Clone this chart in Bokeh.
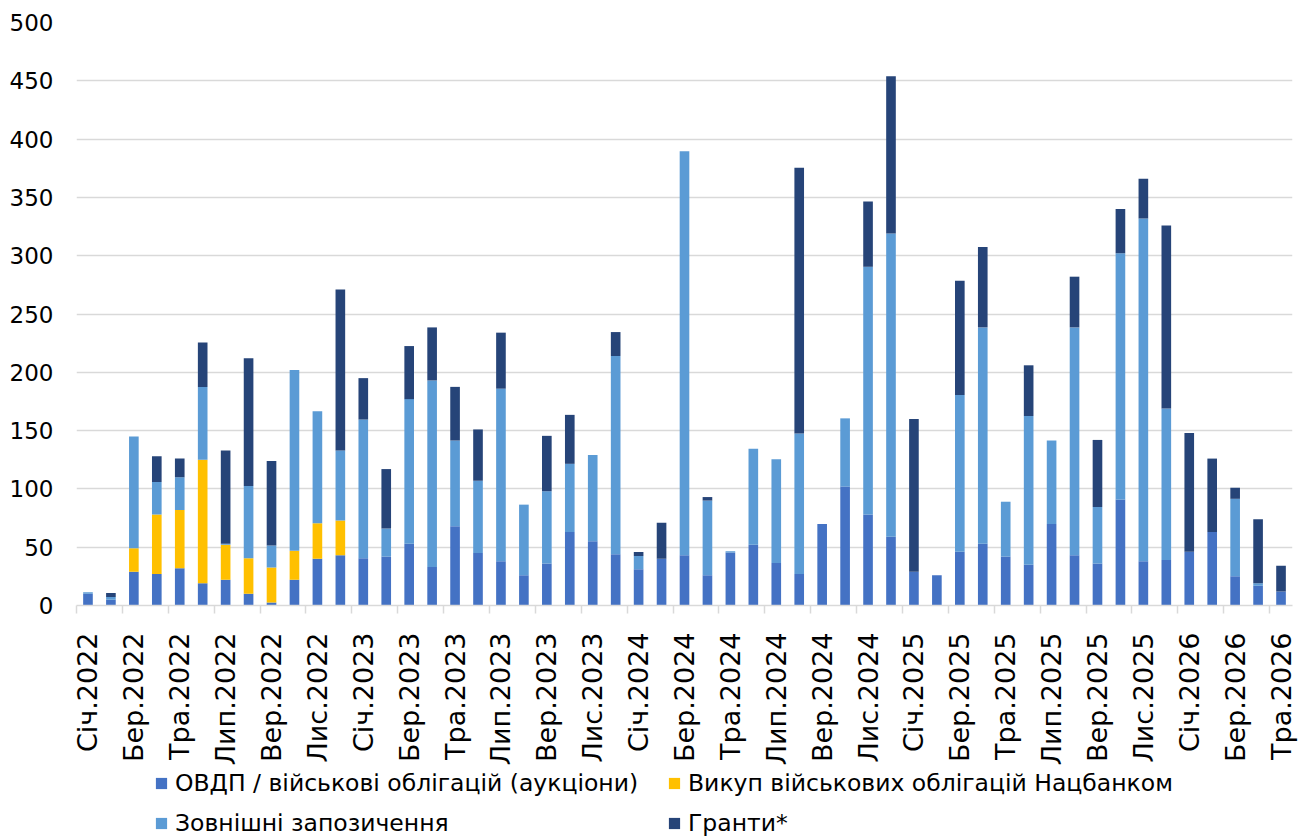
import math
from bokeh.plotting import figure
from bokeh.layouts import column
from bokeh.models import Range1d, FixedTicker, Legend, LegendItem, ColumnDataSource
from bokeh.embed import file_html
from bokeh.resources import INLINE

# ---- data ----
month_names = ["Січ", "Лют", "Бер", "Кві", "Тра", "Чер", "Лип", "Сер", "Вер", "Жов", "Лис", "Гру"]
months = [f"{month_names[m]}.{y}" for y in range(2022, 2027) for m in range(12)][:53]

ovdp = [10, 5, 29, 27, 32, 19, 22, 10, 2.5, 22, 40, 43,
        40.5, 42, 53, 33, 68, 45, 38, 26, 36, 63, 55, 44,
        31, 40, 43, 26, 45.5, 52, 36.5, 27, 70, 102, 78, 59,
        29, 26, 46, 53, 42, 35, 70, 43, 36, 91, 38, 39,
        46, 63, 25, 17, 12]
nbu = [0, 0, 20, 51, 50, 106, 30, 30.5, 30, 25, 30.5, 30,
       0, 0, 0, 0, 0, 0, 0, 0, 0, 0, 0, 0,
       0, 0, 0, 0, 0, 0, 0, 0, 0, 0, 0, 0,
       0, 0, 0, 0, 0, 0, 0, 0, 0, 0, 0, 0,
       0, 0, 0, 0, 0]
external = [1.4, 2.3, 96, 28, 28, 62.5, 1, 62, 19, 155, 96, 60,
            119, 24, 124, 160, 73.5, 62, 148, 60.5, 62, 58.5, 74, 170,
            11.5, 0, 346.5, 64, 1, 82.5, 89, 120.5, 0, 58.5, 212.5, 260,
            0, 0, 134.5, 185.5, 47, 127.5, 71.5, 195.5, 48.5, 211, 294, 130,
            0, 0, 66.5, 2, 0]
grants = [0, 3.4, 0, 22, 16, 38, 80, 109.5, 72.5, 0, 0, 138,
          35.5, 51, 45.5, 45.5, 46, 44, 48, 0, 47.5, 42, 0, 20.5,
          3.3, 31, 0, 3, 0, 0, 0, 228, 0, 0, 56, 135,
          131, 0, 98, 69, 0, 43.5, 0, 43.5, 57.5, 38, 34, 157,
          102, 63, 9.5, 55, 22]

series_keys = ["ovdp", "nbu", "external", "grants"]
series_labels = ["ОВДП / військові облігацій (аукціони)",
                 "Викуп військових облігацій Нацбанком",
                 "Зовнішні запозичення",
                 "Гранти*"]
colors = ["#4472C4", "#FFC000", "#5B9BD5", "#264478"]
y_ticks = list(range(0, 501, 50))

FONT = "DejaVu Sans"
GRID = "#d9d9d9"
W = 1298
FRAME_LEFT = 76

x = list(range(len(months)))
src = ColumnDataSource(dict(x=x, ovdp=ovdp, nbu=nbu, external=external, grants=grants))

p = figure(width=W, height=768, output_backend="svg", toolbar_location=None,
           x_range=Range1d(-0.5, 52.5), y_range=Range1d(0, 500),
           min_border_left=FRAME_LEFT, min_border_right=6, min_border_top=22,
           min_border_bottom=162)
p.outline_line_color = None

renderers = p.vbar_stack(series_keys, x="x", width=0.42, color=colors,
                         line_color=None, source=src)

# x axis
even = list(range(0, len(months), 2))
xa = p.xaxis[0]
xa.ticker = FixedTicker(ticks=even, minor_ticks=[i - 0.5 for i in even])
xa.major_label_overrides = {i: months[i] for i in even}
xa.major_label_orientation = math.pi / 2
xa.major_label_text_font = FONT
xa.major_label_text_font_size = "27px"
xa.major_label_text_color = "#000000"
xa.major_tick_line_color = None
xa.major_tick_out = 0
xa.major_tick_in = 0
xa.major_label_standoff = 19
xa.minor_tick_line_color = GRID
xa.minor_tick_line_width = 1.5
xa.minor_tick_out = 8
xa.minor_tick_in = 0
xa.axis_line_color = GRID
xa.axis_line_width = 1.5

# y axis
ya = p.yaxis[0]
ya.ticker = FixedTicker(ticks=y_ticks)
ya.axis_line_color = None
ya.major_tick_line_color = None
ya.minor_tick_line_color = None
ya.major_tick_out = 0
ya.major_tick_in = 0
ya.major_label_standoff = 23
ya.major_label_text_font = FONT
ya.major_label_text_font_size = "23px"
ya.major_label_text_color = "#000000"

p.xgrid.visible = False
p.ygrid.ticker = FixedTicker(ticks=y_ticks)
p.ygrid.grid_line_color = GRID
p.ygrid.grid_line_width = 1.5

# ---- legend strip (separate figure below the chart) ----
lg_fig = figure(width=W, height=69, output_backend="svg", toolbar_location=None,
                x_range=Range1d(0, 1), y_range=Range1d(0, 1),
                min_border_left=FRAME_LEFT, min_border_right=6,
                min_border_top=0, min_border_bottom=0,
                x_axis_location=None, y_axis_location=None)
lg_fig.outline_line_color = None
lg_fig.xgrid.visible = False
lg_fig.ygrid.visible = False
# off-screen square markers, used only to draw the legend swatches
swatch_src = ColumnDataSource(dict(x=[-5], y=[-5]))
swatches = [lg_fig.scatter(x="x", y="y", marker="square", size=11, fill_color=c,
                           line_color=None, source=swatch_src)
            for c in colors]

def make_legend(idx, vx):
    lg = Legend(items=[LegendItem(label=series_labels[i], renderers=[swatches[i]]) for i in idx],
                location=(vx, 0), orientation="vertical",
                padding=0, margin=0, spacing=12,
                glyph_width=28, glyph_height=28, label_height=28,
                label_standoff=0, border_line_color=None, background_fill_alpha=0,
                label_text_font=FONT, label_text_font_size="23.5px",
                label_text_color="#000000")
    lg_fig.add_layout(lg, "center")

make_legend([0, 2], 147 - FRAME_LEFT)
make_legend([1, 3], 660 - FRAME_LEFT)

layout = column(p, lg_fig, spacing=0)
open("out.html", "w").write(file_html(layout, INLINE))
